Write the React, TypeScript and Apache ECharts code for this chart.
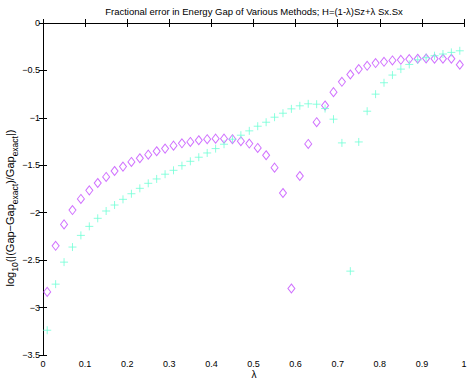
import React, { useEffect, useRef } from "react";
import * as echarts from "echarts";

const lambdas = [
  0.01, 0.03, 0.05, 0.07, 0.09, 0.11, 0.13, 0.15, 0.17, 0.19,
  0.21, 0.23, 0.25, 0.27, 0.29, 0.31, 0.33, 0.35, 0.37, 0.39,
  0.41, 0.43, 0.45, 0.47, 0.49, 0.51, 0.53, 0.55, 0.57, 0.59,
  0.61, 0.63, 0.65, 0.67, 0.69, 0.71, 0.73, 0.75, 0.77, 0.79,
  0.81, 0.83, 0.85, 0.87, 0.89, 0.91, 0.93, 0.95, 0.97, 0.99,
];

const diamondValues = [
  -2.835, -2.349, -2.123, -1.972, -1.855, -1.764, -1.687, -1.623, -1.56, -1.514,
  -1.465, -1.426, -1.388, -1.352, -1.324, -1.293, -1.268, -1.254, -1.236, -1.225,
  -1.219, -1.219, -1.225, -1.246, -1.271, -1.317, -1.394, -1.525, -1.792, -2.799,
  -1.613, -1.275, -1.046, -0.87, -0.729, -0.62, -0.543, -0.486, -0.451, -0.422,
  -0.409, -0.395, -0.388, -0.38, -0.377, -0.374, -0.377, -0.377, -0.377, -0.44,
];

const crossValues = [
  -3.239, -2.753, -2.521, -2.362, -2.239, -2.144, -2.059, -1.982, -1.919, -1.859,
  -1.8, -1.743, -1.69, -1.644, -1.594, -1.553, -1.504, -1.458, -1.415, -1.37,
  -1.324, -1.278, -1.225, -1.183, -1.137, -1.088, -1.046, -0.993, -0.951, -0.905,
  -0.873, -0.852, -0.856, -0.902, -1.014, -1.264, -2.616, -1.254, -0.93, -0.75,
  -0.63, -0.549, -0.486, -0.437, -0.388, -0.366, -0.345, -0.327, -0.31, -0.293,
];

const titleText = "Fractional error in Energy Gap of Various Methods; H=(1-\u03bb)Sz+\u03bb Sx.Sx";
const xLabel = "\u03bb";
const yLabel = "log{sub|10}(|(Gap\u2212Gap{sub|exact})/Gap{sub|exact}|)";

const FONT = "'Liberation Sans', Arial, Helvetica, sans-serif";

export default function App() {
  const ref = useRef<HTMLDivElement>(null);
  useEffect(() => {
    if (!ref.current) return;
    const chart = echarts.init(ref.current, undefined, { renderer: "svg" });
    const fmt = (v: number) => String(v).replace("-", "\u2212");
    const axisLine = { show: true, lineStyle: { color: "#000", width: 1 } };
    const tick = { show: true, inside: true, length: 4, lineStyle: { color: "#000" } };
    chart.setOption({
      animation: false,
      backgroundColor: "#fff",
      textStyle: { fontFamily: FONT },
      title: {
        text: titleText,
        left: 254,
        textAlign: "center",
        top: 6,
        padding: 0,
        textStyle: { fontSize: 9.5, fontWeight: "normal", color: "#000", fontFamily: FONT },
      },
      grid: { left: 43, right: 7, top: 23, bottom: 27, containLabel: false, outerBoundsMode: "none" },
      graphic: [
        {
          type: "text",
          x: 10,
          y: 208,
          rotation: Math.PI / 2,
          style: {
            text: yLabel,
            align: "center",
            verticalAlign: "middle",
            fontSize: 11,
            lineHeight: 18,
            fontFamily: FONT,
            fill: "#000",
            rich: {
              sub: { fontSize: 8.5, lineHeight: 8, verticalAlign: "bottom", fill: "#000", fontFamily: FONT },
            },
          },
        },
        {
          type: "text",
          x: 254,
          y: 374,
          style: {
            text: xLabel,
            align: "center",
            verticalAlign: "middle",
            fontSize: 10,
            fontFamily: FONT,
            fill: "#000",
          },
        },
      ],
      xAxis: [
        {
          type: "value",
          min: 0,
          max: 1,
          interval: 0.1,
          position: "bottom",
          axisLine,
          axisTick: tick,
          splitLine: { show: false },
          axisLabel: { color: "#000", fontSize: 9, margin: 4, formatter: fmt },
        },
        {
          type: "value",
          min: 0,
          max: 1,
          interval: 0.1,
          position: "top",
          axisLine,
          axisTick: tick,
          splitLine: { show: false },
          axisLabel: { show: false },
        },
      ],
      yAxis: [
        {
          type: "value",
          min: -3.5,
          max: 0,
          interval: 0.5,
          position: "left",
          axisLine,
          axisTick: tick,
          splitLine: { show: false },
          axisLabel: { color: "#000", fontSize: 9, margin: 3, formatter: fmt },
        },
        {
          type: "value",
          min: -3.5,
          max: 0,
          interval: 0.5,
          position: "right",
          axisLine,
          axisTick: tick,
          splitLine: { show: false },
          axisLabel: { show: false },
        },
      ],
      series: [
        {
          type: "scatter",
          xAxisIndex: 0,
          yAxisIndex: 0,
          symbol: "diamond",
          symbolSize: [7, 9],
          itemStyle: { color: "transparent", borderColor: "#c44dff", borderWidth: 1 },
          data: lambdas.map((x, i) => [x, diamondValues[i]]),
        },
        {
          type: "scatter",
          xAxisIndex: 0,
          yAxisIndex: 0,
          symbol: "path://M0,5L10,5M5,0L5,10",
          symbolSize: 8,
          itemStyle: { color: "transparent", borderColor: "#6fffd6", borderWidth: 1 },
          data: lambdas.map((x, i) => [x, crossValues[i]]),
        },
      ],
    });
    return () => chart.dispose();
  }, []);
  return (
    <div
      ref={ref}
      style={{ position: "fixed", left: 0, top: 0, width: 471, height: 382, background: "#fff" }}
    />
  );
}
